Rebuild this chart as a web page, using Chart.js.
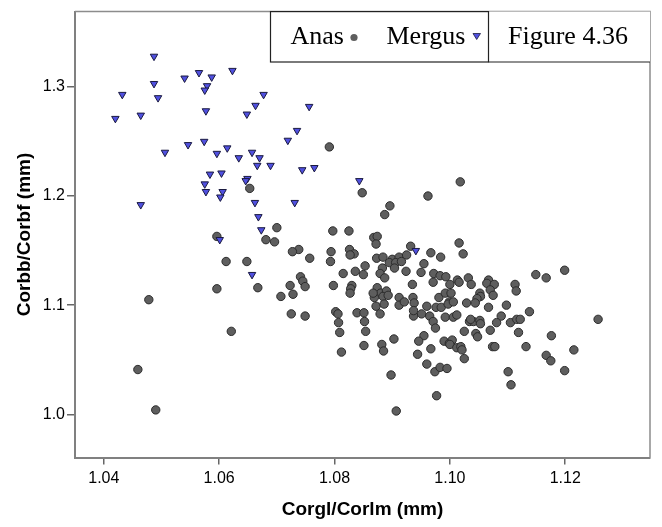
<!DOCTYPE html>
<html>
<head>
<meta charset="utf-8">
<title>Figure 4.36</title>
<script src="https://cdn.jsdelivr.net/npm/chart.js@4.4.1/dist/chart.umd.min.js"></script>
<style>
  body { margin: 0; background: #fff; }
  #wrap { width: 662px; height: 527px; }
</style>
</head>
<body>
<div id="wrap"><canvas id="chart" width="662" height="527"></canvas></div>
<script>
// Anas (grey circles)
const anasX = [
  1.0653, 1.0596, 1.0612, 1.0648, 1.0596, 1.0667, 1.0478, 1.0459, 1.0490, 1.0621,
  1.0791, 1.1018, 1.0848, 1.0962, 1.0896, 1.0887, 1.0700, 1.0797, 1.0825, 1.0681,
  1.0696, 1.0868, 1.0874, 1.0872, 1.0738, 1.0727, 1.0794, 1.0826, 1.0834, 1.0757,
  1.0793, 1.0873, 1.0884, 1.0900, 1.0912, 1.0925, 1.0932, 1.0967, 1.0984, 1.0895,
  1.0906, 1.0904, 1.0883, 1.0853, 1.0924, 1.0955, 1.0950, 1.0972, 1.0983, 1.0815,
  1.0836, 1.0850, 1.0879, 1.0887, 1.0741, 1.0745, 1.0749, 1.0723, 1.0728, 1.0707,
  1.0798, 1.0830, 1.0828, 1.0827, 1.0935, 1.0874, 1.0880, 1.0890, 1.0869, 1.0884,
  1.0893, 1.0872, 1.0886, 1.0912, 1.0936, 1.0938, 1.0912, 1.0921, 1.0960, 1.0976,
  1.0985, 1.0981, 1.0992, 1.0999, 1.0725, 1.0749, 1.0802, 1.0806, 1.0839, 1.0851,
  1.0879, 1.0937, 1.0951, 1.0965, 1.0992, 1.0807, 1.0809, 1.0812, 1.0852, 1.0854,
  1.0851, 1.0882, 1.0885, 1.0903, 1.0898, 1.0907, 1.0971, 1.0975, 1.0955, 1.0946,
  1.0990, 1.0999, 1.0967, 1.0944, 1.0960, 1.0974, 1.0983, 1.0995, 1.0977, 1.1006,
  1.1034, 1.1041, 1.1052, 1.1053, 1.1089, 1.1081, 1.1105, 1.1116, 1.1122, 1.1138,
  1.1257, 1.1070, 1.1119, 1.1025, 1.1045, 1.1048, 1.1004, 1.1000, 1.1012, 1.1019,
  1.1021, 1.1025, 1.1074, 1.1078, 1.1132, 1.1176, 1.1167, 1.1175, 1.1215, 1.1199,
  1.1101, 1.1106, 1.1016, 1.1023, 1.1149, 1.1167, 1.1199, 1.0993, 1.1000, 1.1013,
  1.1016, 1.1032, 1.1037, 1.1067, 1.1064, 1.1077, 1.1070, 1.1075, 1.1052, 1.1053,
  1.1047, 1.1113, 1.1115, 1.1002, 1.0997, 1.1006, 1.1029, 1.1044, 1.1067, 1.1098,
  1.1036, 1.0916, 1.0971, 1.0867, 1.0937, 1.1012, 1.0827
];
const anasY = [
  1.207, 1.163, 1.140, 1.140, 1.115, 1.116, 1.105, 1.041, 1.004, 1.076,
  1.245, 1.213, 1.203, 1.200, 1.191, 1.183, 1.171, 1.168, 1.168, 1.160,
  1.158, 1.162, 1.163, 1.156, 1.151, 1.149, 1.149, 1.151, 1.147, 1.143,
  1.140, 1.143, 1.144, 1.142, 1.144, 1.146, 1.154, 1.148, 1.144, 1.139,
  1.139, 1.134, 1.134, 1.136, 1.131, 1.138, 1.130, 1.129, 1.127, 1.129,
  1.131, 1.128, 1.129, 1.125, 1.126, 1.122, 1.117, 1.118, 1.110, 1.108,
  1.118, 1.118, 1.115, 1.111, 1.119, 1.116, 1.111, 1.113, 1.107, 1.108,
  1.109, 1.099, 1.101, 1.107, 1.107, 1.102, 1.100, 1.103, 1.099, 1.098,
  1.098, 1.107, 1.111, 1.103, 1.092, 1.090, 1.094, 1.092, 1.093, 1.093,
  1.092, 1.090, 1.092, 1.090, 1.089, 1.084, 1.075, 1.057, 1.085, 1.076,
  1.063, 1.064, 1.058, 1.069, 1.036, 1.003, 1.085, 1.079, 1.072, 1.067,
  1.067, 1.065, 1.060, 1.055, 1.046, 1.039, 1.043, 1.042, 1.017, 1.089,
  1.085, 1.085, 1.086, 1.083, 1.090, 1.084, 1.084, 1.087, 1.087, 1.094,
  1.087, 1.077, 1.075, 1.076, 1.074, 1.071, 1.068, 1.064, 1.061, 1.062,
  1.059, 1.051, 1.062, 1.062, 1.062, 1.072, 1.054, 1.049, 1.059, 1.040,
  1.039, 1.027, 1.157, 1.147, 1.128, 1.125, 1.132, 1.126, 1.119, 1.123,
  1.121, 1.125, 1.119, 1.123, 1.120, 1.119, 1.114, 1.109, 1.111, 1.108,
  1.106, 1.119, 1.113, 1.111, 1.101, 1.103, 1.102, 1.102, 1.098, 1.100,
  1.087, 1.140, 1.121, 1.111, 1.095, 1.091, 1.146
];

// Mergus (blue triangles)
const mergusX = [
  1.0487, 1.0432, 1.0420, 1.0464, 1.0487, 1.0494, 1.0540, 1.0565, 1.0587, 1.0579,
  1.0575, 1.0577, 1.0623, 1.0663, 1.0648, 1.0506, 1.0546, 1.0574, 1.0596, 1.0614,
  1.0634, 1.0657, 1.0670, 1.0666, 1.0677, 1.0756, 1.0735, 1.0719, 1.0689, 1.0744,
  1.0765, 1.0843, 1.0662, 1.0731, 1.0668, 1.0673, 1.0941, 1.0657, 1.0584, 1.0604,
  1.0575, 1.0577, 1.0606, 1.0602, 1.0649, 1.0646, 1.0464, 1.0601
];
const mergusY = [
  1.328, 1.293, 1.271, 1.274, 1.303, 1.290, 1.308, 1.313, 1.309, 1.301,
  1.297, 1.278, 1.315, 1.283, 1.275, 1.240, 1.247, 1.250, 1.239, 1.244,
  1.235, 1.240, 1.235, 1.228, 1.293, 1.282, 1.260, 1.251, 1.228, 1.224,
  1.226, 1.214, 1.194, 1.194, 1.181, 1.169, 1.150, 1.128, 1.220, 1.221,
  1.211, 1.204, 1.204, 1.199, 1.216, 1.214, 1.192, 1.160
];

const xTicks = [1.04, 1.06, 1.08, 1.10, 1.12];
const yTicks = [1.0, 1.1, 1.2, 1.3];

const sans = '"Liberation Sans", Arial, sans-serif';
const serif = '"Liberation Serif", "Times New Roman", serif';

function toPoints(xs, ys) {
    return xs.map((x, i) => ({ x: x, y: ys[i] }));
}

// top/right frame lines and the legend boxes in the top right corner
const framePlugin = {
    id: 'frame',
    afterDraw(chart) {
        const { ctx, chartArea: a } = chart;
        ctx.save();
        ctx.strokeStyle = '#8c8c8c';
        ctx.lineWidth = 1.5;
        ctx.beginPath();
        ctx.moveTo(a.left, a.top);
        ctx.lineTo(a.right, a.top);
        ctx.lineTo(a.right, a.bottom);
        ctx.stroke();

        const top = a.top, bottom = 62, mid = 488.5, left = 270.5;
        ctx.fillStyle = '#fff';
        ctx.fillRect(left, top, a.right - left, bottom - top);
        ctx.strokeStyle = '#222';
        ctx.lineWidth = 1.2;
        ctx.strokeRect(left, top, mid - left, bottom - top);
        ctx.beginPath();
        ctx.moveTo(mid, bottom);
        ctx.lineTo(a.right, bottom);
        ctx.stroke();

        ctx.fillStyle = '#000';
        ctx.font = '26px ' + serif;
        ctx.textBaseline = 'alphabetic';
        ctx.fillText('Anas', 290.5, 43.5);
        ctx.fillText('Mergus', 386.5, 43.5);
        ctx.fillText('Figure 4.36', 508, 43.5);

        // legend markers
        ctx.fillStyle = '#5e5e5e';
        ctx.beginPath();
        ctx.arc(354, 37.5, 3.6, 0, Math.PI * 2);
        ctx.fill();
        ctx.fillStyle = '#5050e0';
        ctx.strokeStyle = '#1a1a40';
        ctx.lineWidth = 0.8;
        ctx.beginPath();
        ctx.moveTo(473, 33.5);
        ctx.lineTo(480.5, 33.5);
        ctx.lineTo(476.7, 39.5);
        ctx.closePath();
        ctx.fill();
        ctx.stroke();
        ctx.restore();
    }
};

const ctx = document.getElementById('chart').getContext('2d');
new Chart(ctx, {
    type: 'scatter',
    data: {
        datasets: [
            {
                label: 'Mergus',
                data: toPoints(mergusX, mergusY),
                order: 0,
                pointStyle: 'triangle',
                rotation: 180,
                radius: 4.3,
                backgroundColor: '#5050e0',
                borderColor: '#1a1a40',
                borderWidth: 1
            },
            {
                label: 'Anas',
                data: toPoints(anasX, anasY),
                order: 1,
                pointStyle: 'circle',
                radius: 4.2,
                backgroundColor: '#5e5e5e',
                borderColor: '#2b2b2b',
                borderWidth: 1
            }
        ]
    },
    options: {
        responsive: false,
        animation: false,
        devicePixelRatio: 1,
        layout: { padding: { top: 11, right: 12, left: 0, bottom: 0 } },
        plugins: {
            legend: { display: false },
            tooltip: { enabled: false }
        },
        scales: {
            x: {
                type: 'linear',
                min: 1.035,
                max: 1.1347,
                afterBuildTicks: scale => { scale.ticks = xTicks.map(v => ({ value: v })); },
                afterFit: scale => { scale.height = 69.5; },
                ticks: {
                    color: '#000',
                    font: { family: sans, size: 16 },
                    padding: 4,
                    maxRotation: 0,
                    callback: v => v.toFixed(2)
                },
                grid: { drawOnChartArea: false, drawTicks: true, tickLength: 7, color: '#666', lineWidth: 1.5 },
                border: { color: '#808080', width: 2 },
                title: {
                    display: true,
                    text: 'Corgl/Corlm (mm)',
                    color: '#000',
                    font: { family: sans, size: 19, weight: 'bold' },
                    padding: 6
                }
            },
            y: {
                type: 'linear',
                min: 0.9604,
                max: 1.369,
                afterBuildTicks: scale => { scale.ticks = yTicks.map(v => ({ value: v })); },
                afterFit: scale => { scale.width = 75; },
                ticks: {
                    color: '#000',
                    font: { family: sans, size: 16 },
                    padding: 2,
                    callback: v => v.toFixed(1)
                },
                grid: { drawOnChartArea: false, drawTicks: true, tickLength: 8, color: '#666', lineWidth: 1.5 },
                border: { color: '#808080', width: 2 },
                title: {
                    display: true,
                    text: 'Corbb/Corbf (mm)',
                    color: '#000',
                    font: { family: sans, size: 19, weight: 'bold' },
                    padding: 13
                }
            }
        }
    },
    plugins: [framePlugin]
});
</script>
</body>
</html>
